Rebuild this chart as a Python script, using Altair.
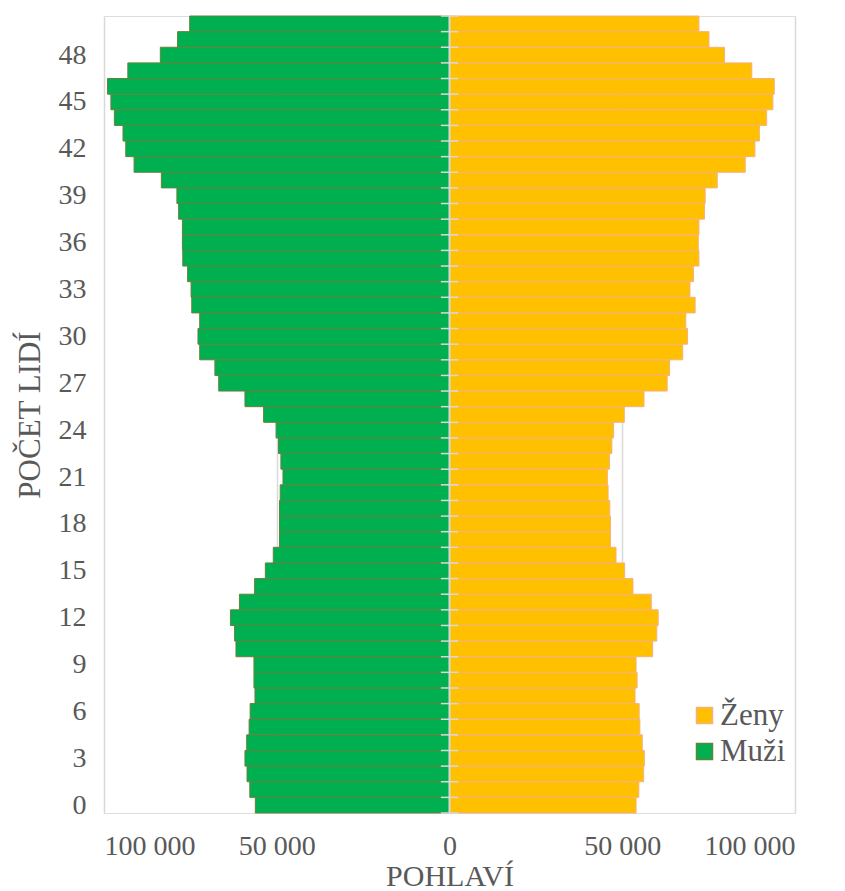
import altair as alt
import pandas as pd

ages = list(range(51))
muzi = [56200, 57800, 58600, 59200, 58700, 58000, 57700, 56300, 56600, 56600,
        61800, 62200, 63400, 60800, 56400, 53300, 51000, 49200, 49200, 49200,
        49000, 48200, 48800, 49500, 50200, 53800, 59200, 66800, 67900, 72300,
        72800, 72300, 74600, 74800, 75800, 77200, 77300, 77300, 78400, 78900,
        83400, 91300, 93700, 94500, 97000, 98000, 99000, 93100, 83700, 78700,
        75200]
zeny = [54000, 54800, 56200, 56400, 55800, 55100, 54900, 53700, 54300, 54000,
        58800, 60000, 60400, 58400, 53100, 50700, 48200, 46600, 46600, 46400,
        45900, 45700, 46300, 47000, 47500, 50600, 56300, 63000, 63700, 67500,
        68900, 68400, 71100, 69600, 70600, 72200, 72000, 72200, 73800, 74000,
        77500, 85600, 88400, 89700, 91800, 93600, 94000, 87500, 79600, 75100,
        72200]
series = ["Ženy", "Muži"]
fills = ["#FFC000", "#00B050"]
strokes = ["#F4B183", "#64823C"]
x_ticks = [-100000, -50000, 0, 50000, 100000]
y_ticks = list(range(0, 49, 3))

rows = []
for a, m, z in zip(ages, muzi, zeny):
    rows.append({"age": a, "sex": "Muži", "val": -m, "zero": 0, "lo": a - 0.5, "hi": a + 0.5})
    rows.append({"age": a, "sex": "Ženy", "val": z, "zero": 0, "lo": a - 0.5, "hi": a + 0.5})
df = pd.DataFrame(rows)

bounds = [a - 0.5 for a in ages] + [ages[-1] + 0.5]
tick_df = pd.DataFrame({"b": bounds, "x1": [-2500] * len(bounds), "x2": [2500] * len(bounds)})
zero_df = pd.DataFrame({"x": [0], "y1": [-0.5], "y2": [ages[-1] + 0.5]})

GRAY = "#595959"
FONT = "Liberation Serif"

xscale = alt.Scale(domain=[-100000, 100000], nice=False, zero=False)
yscale = alt.Scale(domain=[-0.5, ages[-1] + 0.5], nice=False, zero=False)

legend = alt.Legend(title=None, orient="none", legendX=585, legendY=684,
                    symbolType="square", symbolSize=256, symbolStrokeWidth=1.5,
                    labelFontSize=31, labelColor=GRAY, labelFont=FONT,
                    labelOffset=0, rowPadding=4)

bars = alt.Chart(df).mark_bar(strokeWidth=1).encode(
    x=alt.X("val:Q", scale=xscale,
            axis=alt.Axis(values=x_ticks, grid=True, gridColor="#D9D9D9", gridWidth=1.5,
                          domain=False, ticks=False, labelFontSize=28, labelColor=GRAY,
                          labelFont=FONT, labelPadding=19,
                          labelExpr="replace(format(abs(datum.value), ',d'), ',', ' ')",
                          title="POHLAVÍ", titleFontSize=30, titleFontWeight="normal",
                          titleColor=GRAY, titleFont=FONT, titlePadding=1)),
    x2="zero:Q",
    y=alt.Y("lo:Q", scale=yscale,
            axis=alt.Axis(values=y_ticks, grid=False, domain=False, ticks=False,
                          labelFontSize=28, labelColor=GRAY, labelFont=FONT,
                          labelPadding=18, title="POČET LIDÍ", titleFontSize=31,
                          titleFontWeight="normal", titleColor=GRAY, titleFont=FONT,
                          titlePadding=12)),
    y2="hi:Q",
    color=alt.Color("sex:N", scale=alt.Scale(domain=series, range=fills), legend=legend),
    stroke=alt.Stroke("sex:N", scale=alt.Scale(domain=series, range=strokes), legend=legend),
)

zero_line = alt.Chart(zero_df).mark_rule(color="#D9D9D9", strokeWidth=2).encode(
    x=alt.X("x:Q", scale=xscale), y=alt.Y("y1:Q", scale=yscale), y2="y2:Q")

ticks = alt.Chart(tick_df).mark_rule(color="#D9D9D9", strokeWidth=1.5).encode(
    x=alt.X("x1:Q", scale=xscale), x2="x2:Q", y=alt.Y("b:Q", scale=yscale))

chart = alt.layer(bars, zero_line, ticks).properties(
    width=691, height=797,
    autosize=alt.AutoSizeParams(type="none"),
    padding={"left": 96, "top": 8, "right": 42, "bottom": 78},
).configure_view(stroke=None).configure(font=FONT)

chart.save("out.html", embed_options={"renderer": "svg", "actions": False})
